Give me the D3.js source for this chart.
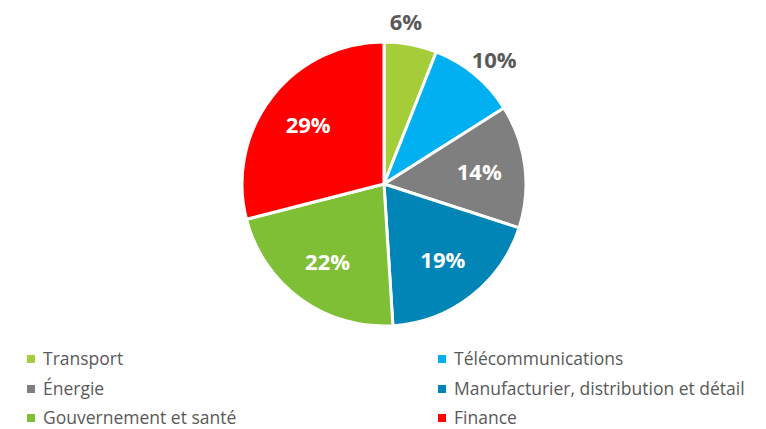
<!DOCTYPE html>
<html>
<head>
<meta charset="utf-8">
<script src="https://cdn.jsdelivr.net/npm/d3@7"></script>
<style>
  body { margin: 0; background: #fff; }
  svg { font-family: "Open Sans", "Noto Sans", sans-serif; }
</style>
</head>
<body>
<div id="pie-chart"></div>
<script>
// chart values
var sectors = ["Transport", "Télécommunications", "Énergie",
  "Manufacturier, distribution et détail", "Gouvernement et santé", "Finance"];
var shares = [6, 10, 14, 19, 22, 29];
var colors = ["#a5cd39", "#00b0f0", "#7f7f7f", "#0085b6", "#7fbf35", "#ff0000"];
var outsideLabels = ["Transport", "Télécommunications"];

var svgWidth = 766;
var svgHeight = 429;

var radius = 142;
var cx = 384, cy = 184;

var svg = d3.select("#pie-chart")
  .append("svg")
  .attr("width", svgWidth)
  .attr("height", svgHeight);

var pieData = sectors.map(function(d, i) {
  return { name: d, value: shares[i], color: colors[i] };
});

var pie = d3.pie()
  .sort(null)
  .value(d => d.value);

var arc = d3.arc()
  .innerRadius(0)
  .outerRadius(radius);

var labelArc = d3.arc()
  .innerRadius(96)
  .outerRadius(96);

var outerArc = d3.arc()
  .innerRadius(165)
  .outerRadius(165);

var pieGroup = svg.append("g")
  .attr("transform", `translate(${cx}, ${cy})`);

var arcs = pie(pieData);

pieGroup.selectAll(".slice")
  .data(arcs)
  .enter()
  .append("path")
  .attr("class", "slice")
  .attr("d", arc)
  .attr("fill", d => d.data.color)
  .attr("stroke", "#fff")
  .attr("stroke-width", 3)
  .attr("stroke-linejoin", "round");

pieGroup.selectAll(".pct")
  .data(arcs)
  .enter()
  .append("text")
  .attr("class", "pct")
  .attr("transform", function(d) {
    var outside = outsideLabels.indexOf(d.data.name) >= 0;
    var p = outside ? outerArc.centroid(d) : labelArc.centroid(d);
    // small nudges for the outside labels, like the original layout
    if (d.data.name == "Transport") p[0] -= 9;
    if (d.data.name == "Télécommunications") { p[0] += 5; p[1] += 3; }
    return `translate(${p[0]}, ${p[1]})`;
  })
  .attr("text-anchor", "middle")
  .attr("dy", "0.36em")
  .attr("font-size", 22)
  .attr("font-weight", "bold")
  .attr("fill", d => outsideLabels.indexOf(d.data.name) >= 0 ? "#595959" : "#fff")
  .text(d => d.data.value + "%");

// legend, two columns
var legendCols = [27, 438];
var legendRows = [359, 389, 418];

var legend = svg.selectAll(".legend")
  .data(pieData)
  .enter()
  .append("g")
  .attr("class", "legend")
  .attr("transform", (d, i) => `translate(${legendCols[i % 2]}, ${legendRows[Math.floor(i / 2)]})`);

legend.append("rect")
  .attr("x", 0)
  .attr("y", -4)
  .attr("width", 8)
  .attr("height", 8)
  .attr("fill", d => d.color);

legend.append("text")
  .attr("x", 16)
  .attr("dy", "0.34em")
  .attr("font-size", 17.5)
  .attr("fill", "#595959")
  .text(d => d.name);
</script>
</body>
</html>
